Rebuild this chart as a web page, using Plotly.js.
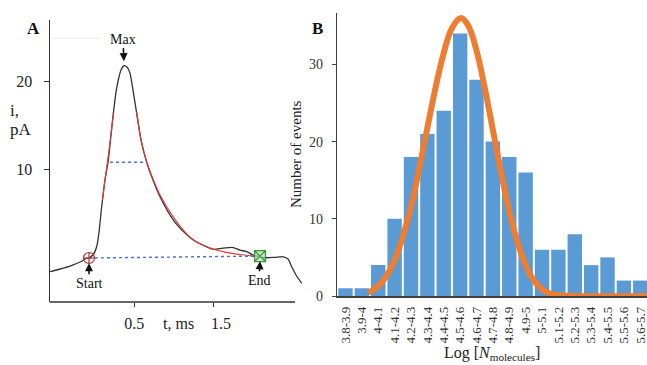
<!DOCTYPE html>
<html>
<head>
<meta charset="utf-8">
<script src="https://cdn.plot.ly/plotly-3.0.1.min.js"></script>
<style>html,body{margin:0;padding:0;background:#fff;}#chart{width:647px;height:365px;}</style>
</head>
<body>
<div id="chart"></div>
<script>
// ---- Panel A: current trace (t in ms, i in pA) ----
var traceT = [-0.585,-0.457,-0.33,-0.20,-0.125,-0.087,-0.036,0.011,0.041,0.075,0.117,0.160,0.194,0.224,0.258,0.287,0.322,0.360,0.398,0.437,0.475,0.522,0.577,0.650,0.730,0.820,0.990,1.139,1.245,1.395,1.50,1.624,1.756,1.84,1.927,2.008,2.097,2.18,2.29,2.395,2.455,2.502,2.557,2.63];
var traceI = [-1.76,-1.45,-1.11,-0.65,-0.25,-0.16,0.15,1.10,2.78,5.68,8.74,11.03,13.9,16.38,18.8,20.2,21.34,21.83,21.68,20.96,19.05,16.38,13.3,10.77,8.74,6.83,4.16,2.67,1.87,1.18,0.80,0.95,1.01,0.72,0.53,0.15,-0.05,-0.16,-0.11,-0.05,-0.31,-1.19,-2.14,-3.09];
var fitT = [0.086,0.117,0.156,0.194,0.226,null,0.522,0.577,0.65,0.730,0.82,0.99,1.139,1.267,1.458,1.65,1.84,2.008,2.085];
var fitI = [6.45,8.74,11.26,14.0,16.4,null,16.5,13.4,10.8,8.85,7.02,4.5,2.78,1.75,0.95,0.49,0.21,0.03,-0.02];
var halfT = [0.181, 0.654], halfI = [10.77, 10.77];
var baseT = [-0.087, 2.097], baseI = [-0.19, 0.03];
var startPt = {t: -0.087, i: -0.19};
var endPt = {t: 2.097, i: 0.03};
var maxPt = {t: 0.360, i: 21.83};
var aTickMarks = [0.5, 1.5];            // where the tick marks sit
var aTickLabelPos = [0.49, 1.60];       // where the reference prints their labels
var aTickText = ['0.5', '1.5'];
var aYTicks = [10, 20];

// ---- Panel B: histogram ----
var categories = ['3.8-3.9','3.9-4','4-4.1','4.1-4.2','4.2-4.3','4.3-4.4','4.4-4.5','4.5-4.6','4.6-4.7','4.7-4.8','4.8-4.9','4.9-5','5-5.1','5.1-5.2','5.2-5.3','5.3-5.4','5.4-5.5','5.5-5.6','5.6-5.7'];
var counts = [1,1,4,10,18,21,24,34,28,20,18,16,6,6,8,4,5,2,2];
var fitLogN = [3.99,4.05,4.10,4.15,4.20,4.25,4.30,4.35,4.40,4.45,4.50,4.555,4.60,4.65,4.70,4.75,4.80,4.85,4.90,4.95,5.00,5.05,5.10,5.15,5.25,5.70];
var fitCount = [0.4,1.3,2.6,4.6,7.7,11.5,16.5,21.8,27,31.5,34.7,36,35,31.8,27,21.5,16,11,7,4,2,0.9,0.3,0.1,0,0];
var bYTicks = [0, 10, 20, 30];

var binCenters = categories.map(function(c){ var p = c.split('-'); return (parseFloat(p[0]) + parseFloat(p[1])) / 2; });

var W = 647, H = 365;
function px(x){ return x / W; }
function py(y){ return 1 - y / H; }
var serif = 'Liberation Serif, Times New Roman, serif';

var data = [
  {x: traceT, y: traceI, xaxis: 'x', yaxis: 'y', mode: 'lines', line: {color: '#333333', width: 1.3, shape: 'spline', smoothing: 0.6}, hoverinfo: 'skip'},
  {x: fitT, y: fitI, xaxis: 'x', yaxis: 'y', mode: 'lines', connectgaps: false, line: {color: '#e03a3a', width: 1.2, shape: 'spline'}, hoverinfo: 'skip'},
  {x: halfT, y: halfI, xaxis: 'x', yaxis: 'y', mode: 'lines', line: {color: '#4a6fd6', width: 1.4, dash: 'dot'}, hoverinfo: 'skip'},
  {x: baseT, y: baseI, xaxis: 'x', yaxis: 'y', mode: 'lines', line: {color: '#4a6fd6', width: 1.4, dash: 'dot'}, hoverinfo: 'skip'},
  {x: [startPt.t], y: [startPt.i], xaxis: 'x', yaxis: 'y', mode: 'markers', marker: {symbol: 'circle-cross-open', size: 11, color: '#b03535', line: {width: 1.2}}, hoverinfo: 'skip'},
  {x: [endPt.t], y: [endPt.i], xaxis: 'x', yaxis: 'y', mode: 'markers', marker: {symbol: 'square-x', size: 11, color: 'rgba(160,220,160,0.6)', line: {width: 1.3, color: '#3a9a3a'}}, hoverinfo: 'skip'},
  {x: binCenters, y: counts, xaxis: 'x2', yaxis: 'y2', type: 'bar', marker: {color: '#5b9bd5'}, hoverinfo: 'skip'},
  {x: fitLogN, y: fitCount, xaxis: 'x2', yaxis: 'y2', mode: 'lines', line: {color: '#ed7d31', width: 6, shape: 'spline'}, hoverinfo: 'skip'}
];

var layout = {
  width: W, height: H,
  margin: {l: 0, r: 0, t: 0, b: 0},
  paper_bgcolor: '#ffffff', plot_bgcolor: 'rgba(0,0,0,0)',
  showlegend: false,
  bargap: 0.12,
  font: {family: serif, color: '#222222'},
  xaxis: {
    domain: [px(50), px(303)], range: [-0.585, 2.646], anchor: 'y',
    showline: false, showgrid: false, zeroline: false,
    tickvals: aTickLabelPos, ticktext: aTickText, ticks: '',
    minor: {tickvals: aTickMarks, ticks: 'outside', ticklen: 4, tickcolor: '#333', tickwidth: 1, showgrid: false},
    tickfont: {family: serif, size: 16, color: '#222'}, ticklabelstandoff: 10
  },
  yaxis: {
    domain: [py(302), py(20)], range: [-5.23, 27.07], anchor: 'x',
    showline: true, linecolor: '#333', linewidth: 1.5, showgrid: false, zeroline: false,
    tickvals: aYTicks, ticks: 'outside', ticklen: 5, tickcolor: '#333', tickwidth: 1,
    tickfont: {family: serif, size: 16, color: '#222'}, ticklabelstandoff: 8
  },
  xaxis2: {
    domain: [px(337.3), 1], range: [3.80, 5.691], anchor: 'y2',
    showline: true, linecolor: '#404040', linewidth: 1.5, showgrid: false, zeroline: false,
    tickvals: binCenters, ticktext: categories, ticks: '', tickangle: -90, ticklabeloverflow: 'allow',
    tickfont: {family: serif, size: 13, color: '#333'}, ticklabelstandoff: 4,
    title: {text: 'Log [<i>N</i><sub>molecules</sub>]', font: {family: serif, size: 16, color: '#222'}, standoff: 4}
  },
  yaxis2: {
    domain: [py(296), py(12.7)], range: [0, 36.7], anchor: 'x2',
    showline: true, linecolor: '#404040', linewidth: 1.5, showgrid: false, zeroline: false,
    tickvals: bYTicks, ticks: 'outside', ticklen: 4, tickcolor: '#404040', tickwidth: 1,
    tickfont: {family: serif, size: 14, color: '#333'}, ticklabelstandoff: 6,
    title: {text: 'Number of events', font: {family: serif, size: 15, color: '#222'}, standoff: 3}
  },
  shapes: [
    {type: 'line', xref: 'paper', yref: 'paper', x0: px(50), x1: px(295), y0: py(302), y1: py(302), line: {color: '#333', width: 1.5}},
    {type: 'line', xref: 'paper', yref: 'paper', x0: px(51), x1: px(102), y0: py(38.3), y1: py(38.3), line: {color: '#ececec', width: 1}}
  ],
  annotations: [
    {xref: 'paper', yref: 'paper', x: px(33), y: py(28), xanchor: 'center', yanchor: 'middle', text: '<b>A</b>', showarrow: false, font: {family: serif, size: 17, color: '#111'}},
    {xref: 'paper', yref: 'paper', x: px(317), y: py(28), xanchor: 'center', yanchor: 'middle', text: '<b>B</b>', showarrow: false, font: {family: serif, size: 17, color: '#111'}},
    {xref: 'paper', yref: 'paper', x: px(8), y: py(110), xanchor: 'left', yanchor: 'middle', text: 'i,', showarrow: false, font: {family: serif, size: 17, color: '#222'}},
    {xref: 'paper', yref: 'paper', x: px(8), y: py(129), xanchor: 'left', yanchor: 'middle', text: 'pA', showarrow: false, font: {family: serif, size: 17, color: '#222'}},
    {xref: 'paper', yref: 'paper', x: px(178), y: py(323), xanchor: 'center', yanchor: 'middle', text: 't, ms', showarrow: false, font: {family: serif, size: 16, color: '#222'}},
    {xref: 'x', yref: 'y', x: maxPt.t, y: maxPt.i + 0.3, ax: -1, ay: -24, text: 'Max', showarrow: true, arrowhead: 2, arrowsize: 1, arrowwidth: 1.6, arrowcolor: '#111', standoff: 2, font: {family: serif, size: 14, color: '#111'}},
    {xref: 'x', yref: 'y', x: startPt.t, y: startPt.i - 0.6, ax: 0, ay: 20, text: 'Start', showarrow: true, arrowhead: 2, arrowsize: 1, arrowwidth: 1.6, arrowcolor: '#111', font: {family: serif, size: 14, color: '#111'}},
    {xref: 'x', yref: 'y', x: endPt.t, y: endPt.i - 0.6, ax: -1, ay: 19, text: 'End', showarrow: true, arrowhead: 2, arrowsize: 1, arrowwidth: 1.6, arrowcolor: '#111', font: {family: serif, size: 14, color: '#111'}}
  ]
};

Plotly.newPlot('chart', data, layout, {staticPlot: true, displayModeBar: false});
</script>
</body>
</html>
